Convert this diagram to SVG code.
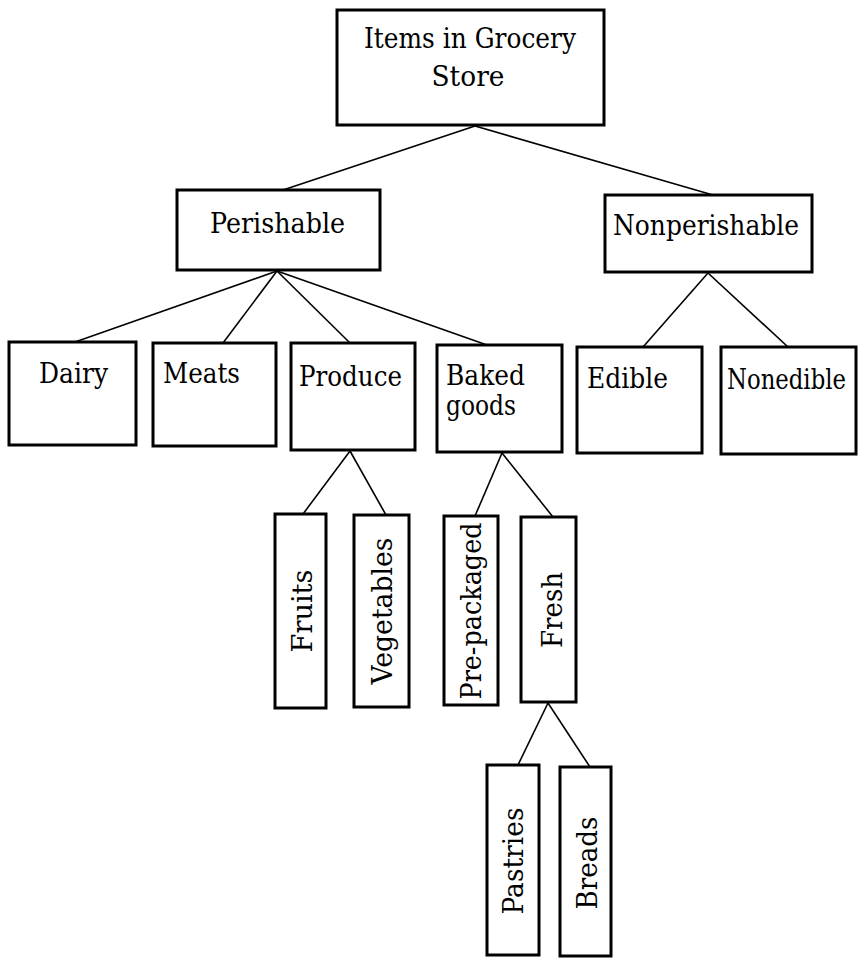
<svg xmlns="http://www.w3.org/2000/svg" width="860" height="958" viewBox="0 0 860 958">
<style>
  .box { fill: #ffffff; stroke: #000000; stroke-width: 3; }
  .lbl { font-family: "DejaVu Serif", "Liberation Serif", serif; font-size: 27px; fill: #000000; }
  .mid { text-anchor: middle; }
  .conn line { stroke: #000000; stroke-width: 1.6; }
</style>
<rect width="860" height="958" fill="#ffffff"/>
<g id="connectors" class="conn">
  <line x1="475" y1="126" x2="283" y2="190"/>
  <line x1="475" y1="126" x2="713" y2="195"/>
  <line x1="277" y1="271" x2="75" y2="342"/>
  <line x1="277" y1="271" x2="223" y2="343"/>
  <line x1="277" y1="271" x2="350" y2="343"/>
  <line x1="277" y1="271" x2="487" y2="345"/>
  <line x1="708" y1="273" x2="643" y2="347"/>
  <line x1="708" y1="273" x2="788" y2="347"/>
  <line x1="350" y1="451" x2="303" y2="514"/>
  <line x1="350" y1="451" x2="386" y2="515"/>
  <line x1="502" y1="453" x2="475" y2="516"/>
  <line x1="502" y1="453" x2="553" y2="517"/>
  <line x1="548" y1="703" x2="518" y2="765"/>
  <line x1="548" y1="703" x2="590" y2="767"/>
</g>
<g id="node-root">
  <rect class="box" x="337" y="10" width="267" height="115"/>
  <text class="lbl mid" x="470" y="48" textLength="212" lengthAdjust="spacingAndGlyphs">Items in Grocery</text>
  <text class="lbl mid" x="468" y="86" textLength="73" lengthAdjust="spacingAndGlyphs">Store</text>
</g>
<g id="node-perishable">
  <rect class="box" x="177" y="190" width="203" height="80"/>
  <text class="lbl mid" x="277.5" y="233" textLength="135" lengthAdjust="spacingAndGlyphs">Perishable</text>
</g>
<g id="node-nonperishable">
  <rect class="box" x="605" y="195" width="207" height="77"/>
  <text class="lbl mid" x="706" y="235" textLength="186" lengthAdjust="spacingAndGlyphs">Nonperishable</text>
</g>
<g id="node-dairy">
  <rect class="box" x="9" y="342" width="127" height="103"/>
  <text class="lbl" x="39" y="383" textLength="69" lengthAdjust="spacingAndGlyphs">Dairy</text>
</g>
<g id="node-meats">
  <rect class="box" x="153" y="343" width="123" height="103"/>
  <text class="lbl" x="163" y="383" textLength="77" lengthAdjust="spacingAndGlyphs">Meats</text>
</g>
<g id="node-produce">
  <rect class="box" x="291" y="343" width="124" height="107"/>
  <text class="lbl" x="299" y="386" textLength="103" lengthAdjust="spacingAndGlyphs">Produce</text>
</g>
<g id="node-baked-goods">
  <rect class="box" x="437" y="345" width="125" height="107"/>
  <text class="lbl" x="446" y="385" textLength="79" lengthAdjust="spacingAndGlyphs">Baked</text>
  <text class="lbl" x="446" y="415" textLength="70" lengthAdjust="spacingAndGlyphs">goods</text>
</g>
<g id="node-edible">
  <rect class="box" x="577" y="347" width="125" height="106"/>
  <text class="lbl" x="587" y="388" textLength="81" lengthAdjust="spacingAndGlyphs">Edible</text>
</g>
<g id="node-nonedible">
  <rect class="box" x="721" y="347" width="135" height="107"/>
  <text class="lbl" x="727" y="389" font-size="23.5" textLength="119" lengthAdjust="spacingAndGlyphs">Nonedible</text>
</g>
<g id="node-fruits">
  <rect class="box" x="275" y="514" width="51" height="194"/>
  <text class="lbl mid" transform="translate(312,611) rotate(-90)" x="0" y="0" textLength="83" lengthAdjust="spacingAndGlyphs">Fruits</text>
</g>
<g id="node-vegetables">
  <rect class="box" x="354" y="515" width="55" height="192"/>
  <text class="lbl mid" transform="translate(392,611) rotate(-90)" x="0" y="0" textLength="147" lengthAdjust="spacingAndGlyphs">Vegetables</text>
</g>
<g id="node-prepackaged">
  <rect class="box" x="444" y="516" width="54" height="189"/>
  <text class="lbl mid" transform="translate(481,611) rotate(-90)" x="0" y="0" textLength="177" lengthAdjust="spacingAndGlyphs">Pre-packaged</text>
</g>
<g id="node-fresh">
  <rect class="box" x="521" y="517" width="55" height="185"/>
  <text class="lbl mid" transform="translate(562,610) rotate(-90)" x="0" y="0" textLength="76" lengthAdjust="spacingAndGlyphs">Fresh</text>
</g>
<g id="node-pastries">
  <rect class="box" x="487" y="765" width="52" height="190"/>
  <text class="lbl mid" transform="translate(523,861) rotate(-90)" x="0" y="0" textLength="107" lengthAdjust="spacingAndGlyphs">Pastries</text>
</g>
<g id="node-breads">
  <rect class="box" x="560" y="767" width="51" height="189"/>
  <text class="lbl mid" transform="translate(597,863) rotate(-90)" x="0" y="0" textLength="93" lengthAdjust="spacingAndGlyphs">Breads</text>
</g>
</svg>
